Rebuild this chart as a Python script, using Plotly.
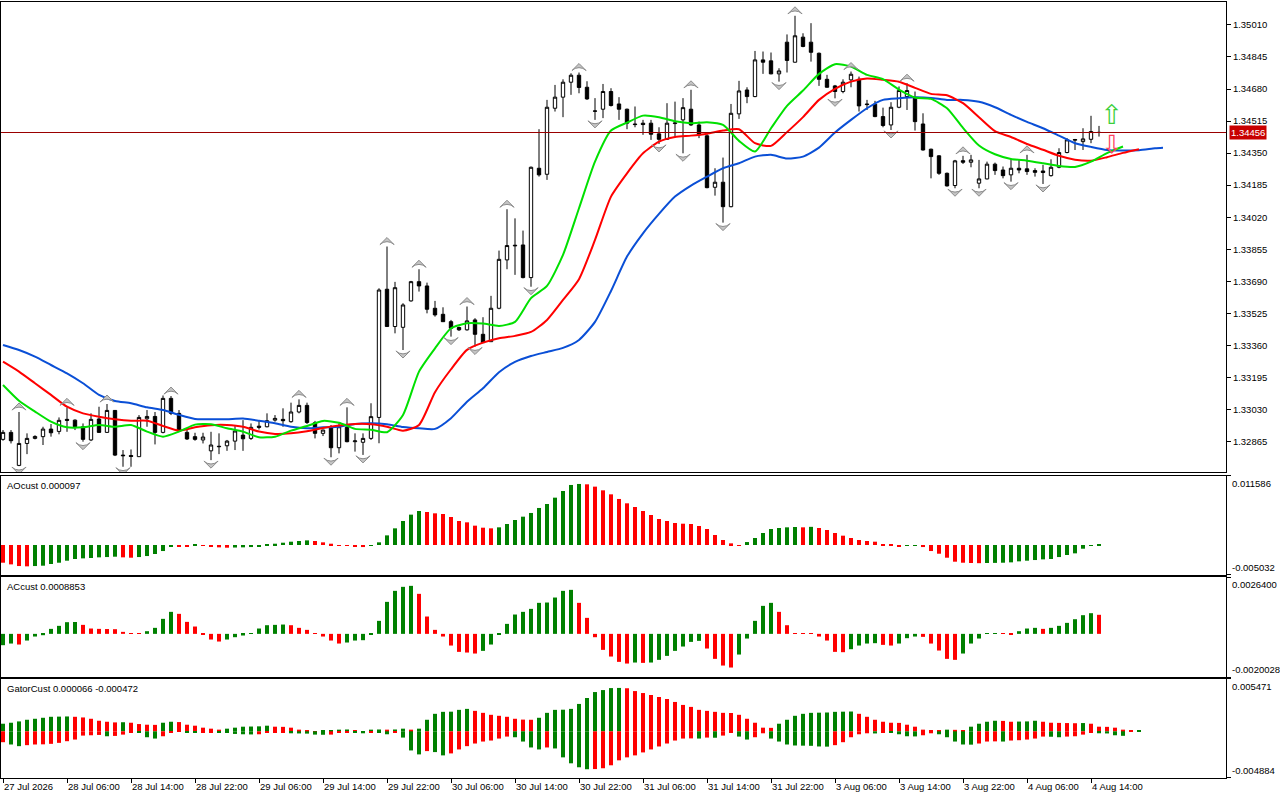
import numpy as np
import plotly.graph_objects as go
from plotly.subplots import make_subplots

# time axis labels, one every 8 hourly bars
time_labels = ['27 Jul 2026', '28 Jul 06:00', '28 Jul 14:00', '28 Jul 22:00', '29 Jul 06:00',
               '29 Jul 14:00', '29 Jul 22:00', '30 Jul 06:00', '30 Jul 14:00', '30 Jul 22:00',
               '31 Jul 06:00', '31 Jul 14:00', '31 Jul 22:00', '3 Aug 06:00', '3 Aug 14:00',
               '3 Aug 22:00', '4 Aug 06:00', '4 Aug 14:00']
label_step = 8

opens = [1.32876, 1.32912, 1.32742, 1.32855, 1.32881, 1.32890, 1.32929, 1.32917, 1.32979, 1.32975,
         1.32941, 1.32873, 1.32981, 1.32912, 1.33025, 1.32795, 1.32793, 1.32787, 1.32982, 1.32994,
         1.32912, 1.33087, 1.33010, 1.32912, 1.32890, 1.32873, 1.32817, 1.32838, 1.32843, 1.32867,
         1.32898, 1.32881, 1.32944, 1.32941, 1.32975, 1.32979, 1.32967, 1.33017, 1.33051, 1.32962,
         1.32907, 1.32938, 1.32833, 1.32938, 1.32864, 1.32861, 1.32881, 1.32989, 1.33649, 1.33457,
         1.33453, 1.33589, 1.33688, 1.33666, 1.33551, 1.33520, 1.33482, 1.33452, 1.33440, 1.33491,
         1.33417, 1.33379, 1.33551, 1.33800, 1.33872, 1.33877, 1.33709, 1.34272, 1.34241, 1.34581,
         1.34638, 1.34715, 1.34751, 1.34689, 1.34567, 1.34576, 1.34667, 1.34603, 1.34576, 1.34500,
         1.34504, 1.34504, 1.34449, 1.34421, 1.34502, 1.34521, 1.34576, 1.34495, 1.34439, 1.34174,
         1.34200, 1.34074, 1.34552, 1.34675, 1.34641, 1.34830, 1.34825, 1.34758, 1.34921, 1.34818,
         1.34947, 1.34921, 1.34864, 1.34730, 1.34696, 1.34667, 1.34727, 1.34730, 1.34603, 1.34602,
         1.34538, 1.34495, 1.34586, 1.34641, 1.34633, 1.34500, 1.34370, 1.34336, 1.34246, 1.34183,
         1.34311, 1.34303, 1.34195, 1.34217, 1.34293, 1.34263, 1.34238, 1.34272, 1.34269, 1.34260,
         1.34258, 1.34234, 1.34277, 1.34353, 1.34416, 1.34409, 1.34421, 1.34457]
highs = [1.32924, 1.32924, 1.33017, 1.32907, 1.32897, 1.32941, 1.32955, 1.32989, 1.33041, 1.32979,
         1.32958, 1.33010, 1.33044, 1.33058, 1.33027, 1.32821, 1.32824, 1.33001, 1.33027, 1.33017,
         1.33102, 1.33099, 1.33027, 1.32924, 1.32910, 1.32910, 1.32915, 1.32907, 1.32873, 1.32944,
         1.32975, 1.32958, 1.32975, 1.33010, 1.33001, 1.33036, 1.33065, 1.33082, 1.33065, 1.32971,
         1.32926, 1.32950, 1.32959, 1.33041, 1.32907, 1.32907, 1.33062, 1.33654, 1.33869, 1.33687,
         1.33577, 1.33692, 1.33752, 1.33683, 1.33589, 1.33556, 1.33491, 1.33457, 1.33560, 1.33500,
         1.33505, 1.33615, 1.33848, 1.34061, 1.34014, 1.33951, 1.34281, 1.34473, 1.34624, 1.34701,
         1.34730, 1.34761, 1.34765, 1.34720, 1.34633, 1.34706, 1.34684, 1.34638, 1.34579, 1.34590,
         1.34521, 1.34521, 1.34483, 1.34607, 1.34615, 1.34633, 1.34676, 1.34512, 1.34449, 1.34272,
         1.34327, 1.34603, 1.34722, 1.34689, 1.34876, 1.34873, 1.34868, 1.34787, 1.34961, 1.35057,
         1.34967, 1.35019, 1.34868, 1.34753, 1.34701, 1.34730, 1.34770, 1.34744, 1.34624, 1.34619,
         1.34584, 1.34612, 1.34693, 1.34710, 1.34667, 1.34555, 1.34373, 1.34339, 1.34250, 1.34315,
         1.34336, 1.34341, 1.34315, 1.34306, 1.34301, 1.34281, 1.34320, 1.34315, 1.34341, 1.34272,
         1.34289, 1.34318, 1.34375, 1.34427, 1.34423, 1.34478, 1.34542, 1.34490]
lows = [1.32869, 1.32855, 1.32738, 1.32800, 1.32876, 1.32847, 1.32890, 1.32902, 1.32915, 1.32924,
        1.32864, 1.32867, 1.32910, 1.32910, 1.32790, 1.32735, 1.32735, 1.32787, 1.32941, 1.32850,
        1.32907, 1.33001, 1.32915, 1.32873, 1.32869, 1.32855, 1.32769, 1.32800, 1.32817, 1.32821,
        1.32817, 1.32873, 1.32927, 1.32938, 1.32967, 1.32941, 1.32962, 1.33010, 1.32955, 1.32881,
        1.32893, 1.32784, 1.32804, 1.32861, 1.32813, 1.32796, 1.32873, 1.32856, 1.33457, 1.33422,
        1.33336, 1.33585, 1.33637, 1.33525, 1.33508, 1.33481, 1.33405, 1.33434, 1.33436, 1.33354,
        1.33372, 1.33378, 1.33546, 1.33752, 1.33723, 1.33705, 1.33662, 1.34229, 1.34212, 1.34564,
        1.34535, 1.34650, 1.34658, 1.34624, 1.34521, 1.34530, 1.34590, 1.34521, 1.34473, 1.34483,
        1.34444, 1.34418, 1.34397, 1.34418, 1.34435, 1.34349, 1.34490, 1.34427, 1.34169, 1.34131,
        1.33992, 1.34071, 1.34526, 1.34607, 1.34638, 1.34758, 1.34756, 1.34718, 1.34765, 1.34816,
        1.34895, 1.34821, 1.34696, 1.34687, 1.34632, 1.34658, 1.34689, 1.34564, 1.34572, 1.34535,
        1.34483, 1.34469, 1.34581, 1.34572, 1.34466, 1.34363, 1.34220, 1.34238, 1.34178, 1.34169,
        1.34294, 1.34277, 1.34169, 1.34215, 1.34238, 1.34220, 1.34203, 1.34246, 1.34238, 1.34229,
        1.34191, 1.34229, 1.34272, 1.34349, 1.34366, 1.34366, 1.34401, 1.34435]
closes = [1.32912, 1.32869, 1.32855, 1.32881, 1.32891, 1.32929, 1.32910, 1.32974, 1.32974, 1.32941,
          1.32876, 1.32979, 1.32912, 1.33025, 1.32795, 1.32792, 1.32788, 1.32989, 1.32994, 1.32912,
          1.33087, 1.33010, 1.32919, 1.32878, 1.32876, 1.32888, 1.32847, 1.32840, 1.32867, 1.32919,
          1.32879, 1.32938, 1.32938, 1.32972, 1.32984, 1.32972, 1.33017, 1.33051, 1.32963, 1.32907,
          1.32924, 1.32833, 1.32941, 1.32864, 1.32868, 1.32881, 1.32993, 1.33645, 1.33457, 1.33657,
          1.33568, 1.33688, 1.33666, 1.33546, 1.33517, 1.33482, 1.33448, 1.33440, 1.33486, 1.33417,
          1.33374, 1.33551, 1.33803, 1.33874, 1.33875, 1.33709, 1.34277, 1.34238, 1.34586, 1.34638,
          1.34715, 1.34751, 1.34688, 1.34629, 1.34566, 1.34667, 1.34595, 1.34576, 1.34504, 1.34497,
          1.34497, 1.34447, 1.34421, 1.34504, 1.34505, 1.34584, 1.34495, 1.34444, 1.34172, 1.34200,
          1.34074, 1.34555, 1.34670, 1.34641, 1.34830, 1.34818, 1.34758, 1.34773, 1.34827, 1.34954,
          1.34899, 1.34869, 1.34730, 1.34689, 1.34667, 1.34715, 1.34756, 1.34593, 1.34600, 1.34538,
          1.34492, 1.34586, 1.34672, 1.34672, 1.34512, 1.34366, 1.34332, 1.34246, 1.34181, 1.34310,
          1.34303, 1.34315, 1.34217, 1.34293, 1.34260, 1.34234, 1.34272, 1.34263, 1.34255, 1.34251,
          1.34250, 1.34277, 1.34353, 1.34418, 1.34420, 1.34423, 1.34461, 1.34456]

# alligator lines, read every second bar (they run past the last candle)
jaw_bars = list(range(0, 145, 2)) + [145]
jaw = [1.33362, 1.33336, 1.33302, 1.33259, 1.33216, 1.33165, 1.33105, 1.33074, 1.33062, 1.33041,
       1.33027, 1.33002, 1.32981, 1.32980, 1.32980, 1.32983, 1.32972, 1.32959, 1.32941, 1.32933,
       1.32938, 1.32941, 1.32955, 1.32959, 1.32954, 1.32940, 1.32933, 1.32930, 1.32985, 1.33070,
       1.33139, 1.33222, 1.33275, 1.33305, 1.33326, 1.33347, 1.33388, 1.33481, 1.33640, 1.33817,
       1.33937, 1.34037, 1.34126, 1.34183, 1.34229, 1.34272, 1.34298, 1.34332, 1.34341, 1.34322,
       1.34332, 1.34378, 1.34456, 1.34521, 1.34581, 1.34624, 1.34632, 1.34637, 1.34634, 1.34624,
       1.34624, 1.34614, 1.34586, 1.34547, 1.34511, 1.34478, 1.34440, 1.34401, 1.34382, 1.34366,
       1.34363, 1.34365, 1.34375, 1.34378]
teeth_bars = list(range(0, 143, 2))
teeth = [1.33276, 1.33225, 1.33165, 1.33105, 1.33044, 1.33010, 1.32993, 1.32980, 1.32972, 1.32972,
         1.32945, 1.32921, 1.32938, 1.32949, 1.32950, 1.32941, 1.32916, 1.32904, 1.32907, 1.32918,
         1.32935, 1.32947, 1.32955, 1.32954, 1.32941, 1.32921, 1.32950, 1.33119, 1.33237, 1.33337,
         1.33374, 1.33397, 1.33409, 1.33429, 1.33491, 1.33594, 1.33701, 1.33903, 1.34126, 1.34246,
         1.34349, 1.34409, 1.34433, 1.34440, 1.34450, 1.34466, 1.34473, 1.34401, 1.34387, 1.34458,
         1.34535, 1.34624, 1.34681, 1.34718, 1.34734, 1.34727, 1.34717, 1.34686, 1.34655, 1.34648,
         1.34607, 1.34535, 1.34463, 1.34433, 1.34397, 1.34367, 1.34336, 1.34316, 1.34311, 1.34329,
         1.34351, 1.34370]
lips_bars = list(range(0, 141, 2))
lips = [1.33156, 1.33075, 1.33019, 1.32967, 1.32938, 1.32938, 1.32950, 1.32941, 1.32950, 1.32916,
        1.32890, 1.32916, 1.32952, 1.32954, 1.32933, 1.32916, 1.32887, 1.32890, 1.32921, 1.32945,
        1.32971, 1.32962, 1.32930, 1.32926, 1.32913, 1.33002, 1.33225, 1.33345, 1.33448, 1.33474,
        1.33472, 1.33460, 1.33481, 1.33603, 1.33666, 1.33826, 1.34066, 1.34306, 1.34466, 1.34507,
        1.34543, 1.34535, 1.34514, 1.34504, 1.34509, 1.34495, 1.34413, 1.34358, 1.34478, 1.34593,
        1.34672, 1.34758, 1.34808, 1.34796, 1.34753, 1.34731, 1.34677, 1.34636, 1.34629, 1.34581,
        1.34480, 1.34389, 1.34344, 1.34320, 1.34311, 1.34298, 1.34284, 1.34279, 1.34306, 1.34350,
        1.34384]

fractal_up = [2, 8, 13, 21, 37, 43, 48, 52, 58, 63, 72, 86, 99, 106, 113, 120, 128]
fractal_down = [2, 10, 15, 26, 41, 45, 50, 56, 59, 66, 74, 82, 85, 90, 97, 104, 111, 119, 122, 126, 130]

signal_bar = 138.6
signal_buy = 1.34536
signal_sell = 1.34382

# oscillators, in units of 1e-4
ao = np.array([
    -29.7, -32.5, -35.3, -35.8, -35.3, -34.7, -31.9, -29.7, -26.3, -23.5,
    -22.4, -21.8, -20.7, -20.2, -19.6, -20.7, -21.3, -20.2, -18.5, -15.1,
    -10.1, -2.0, -2.2, -2.5, 1.7, -1.1, -2.2, -3.9, -4.5, -4.2,
    -3.9, -3.4, -2.2, 0.6, 2.2, 3.9, 5.6, 6.7, 7.8, 6.7,
    4.5, 2.2, -0.6, -1.1, -1.7, -3.4, -0.6, 4.5, 16.2, 28.0,
    40.3, 51.0, 57.1, 55.4, 53.2, 52.1, 47.0, 40.3, 38.1, 32.5,
    29.1, 28.0, 29.7, 35.3, 42.0, 47.6, 53.8, 62.2, 68.9, 79.5,
    90.7, 100.8, 102.5, 101.9, 98.0, 91.8, 85.1, 77.3, 70.0, 63.8,
    57.1, 50.4, 43.7, 40.3, 37.0, 35.8, 35.3, 31.9, 26.9, 16.8,
    8.4, 2.8, -1.1, 5.0, 11.8, 20.2, 26.9, 28.6, 29.7, 30.2,
    29.7, 30.5, 28.6, 25.2, 20.2, 15.7, 11.8, 8.4, 6.7, 5.6,
    1.7, 1.1, -1.7, -1.4, -1.1, -3.4, -10.1, -14.6, -21.3, -28.0,
    -29.7, -30.2, -30.5, -30.2, -30.0, -29.7, -29.1, -27.4, -26.3, -25.2,
    -24.1, -23.5, -20.2, -16.8, -14.0, -6.2, -1.1, 0.97]) * 1e-4
ac = np.array([
    -5.26, -4.49, -4.95, -3.10, -1.24, -0.62, 2.32, 3.72, 5.42, 5.50,
    4.18, 2.48, 2.32, 2.24, 2.17, 0.93, 0.15, 0.05, 1.24, 2.79,
    6.97, 10.22, 9.29, 5.57, 3.41, -0.15, -2.63, -3.56, -2.63, -1.55,
    -0.77, 0.15, 2.48, 4.02, 4.18, 4.33, 4.02, 2.79, 1.86, 0.05,
    -1.24, -3.10, -4.49, -4.02, -3.10, -2.94, -0.15, 6.04, 14.86, 19.97,
    21.83, 22.29, 18.58, 8.05, 1.86, -1.24, -5.42, -8.36, -8.67, -9.13,
    -7.89, -4.95, -0.31, 4.64, 8.98, 10.22, 11.61, 14.40, 14.55, 16.87,
    19.97, 20.43, 14.40, 7.43, -1.55, -7.43, -10.53, -13.00, -13.78, -13.31,
    -13.47, -13.31, -12.07, -10.22, -7.89, -5.88, -3.72, -3.25, -6.81, -11.61,
    -14.71, -15.63, -9.60, -2.17, 6.04, 13.00, 14.40, 10.22, 4.02, 0.31,
    0.20, 0.10, -1.24, -3.10, -8.36, -8.51, -7.12, -5.42, -4.49, -4.33,
    -5.11, -5.42, -4.49, -2.01, -1.24, -1.39, -4.49, -7.74, -11.61, -12.07,
    -9.13, -4.49, -2.17, 0.08, 0.15, 0.05, -0.15, 1.24, 2.48, 2.79,
    2.32, 2.79, 3.72, 5.11, 6.81, 8.67, 9.60, 8.853]) * 1e-4
gator_up = np.array([
    7.94, 8.97, 10.35, 12.08, 13.11, 14.15, 15.18, 15.35, 15.53, 15.18,
    14.49, 13.11, 11.04, 10.01, 9.32, 9.49, 8.97, 7.59, 6.90, 6.73,
    8.97, 10.01, 9.66, 6.90, 5.87, 3.80, 2.76, 1.73, 2.76, 3.80,
    4.83, 5.00, 5.18, 5.87, 4.83, 4.66, 3.80, 1.73, 0.69, 0.10,
    0.69, 0.86, 1.73, 1.90, 0.69, 0.10, 1.73, 1.90, 1.73, 1.90,
    2.76, 1.73, 2.76, 12.08, 18.29, 20.36, 20.53, 22.43, 23.46, 21.39,
    19.32, 17.25, 16.22, 15.18, 13.11, 12.25, 12.08, 14.15, 19.32, 22.43,
    22.60, 23.46, 28.64, 34.85, 41.06, 43.13, 45.20, 45.37, 45.02, 42.09,
    40.02, 37.95, 35.88, 33.81, 30.71, 27.60, 25.53, 22.43, 21.39, 20.36,
    19.32, 19.15, 17.25, 13.11, 8.97, 3.80, 3.62, 7.94, 12.08, 16.22,
    18.29, 19.32, 19.49, 19.67, 20.36, 20.53, 20.70, 18.29, 15.18, 12.08,
    10.01, 8.97, 8.80, 6.90, 4.83, 1.73, 1.04, 0.86, 1.73, 1.55,
    1.04, 4.83, 7.94, 10.01, 11.04, 10.87, 10.01, 10.18, 10.35, 11.04,
    10.01, 8.97, 8.80, 8.63, 8.45, 8.63, 7.94, 4.83, 4.66, 3.80,
    1.73, 0.52, 0.66]) * 1e-4
gator_down = np.array([
    11.39, 13.80, 15.53, 14.49, 13.80, 13.63, 13.11, 12.08, 10.35, 8.63,
    4.49, 4.14, 3.80, 5.18, 4.83, 3.45, 1.04, 1.73, 6.21, 7.59,
    5.18, 1.04, 0.69, 1.04, 1.73, 1.38, 1.04, 1.21, 1.73, 2.76,
    3.11, 3.28, 3.11, 1.73, 1.55, 1.38, 2.07, 2.24, 2.42, 3.45,
    3.62, 3.45, 1.04, 0.86, 1.04, 2.07, 1.04, 1.21, 3.11, 1.04,
    6.56, 20.01, 24.15, 20.70, 21.74, 25.19, 23.12, 18.98, 15.53, 12.77,
    10.70, 9.66, 7.59, 5.52, 6.21, 10.70, 16.91, 18.98, 16.91, 17.94,
    27.26, 33.47, 37.61, 39.68, 39.50, 38.64, 35.54, 30.36, 27.26, 25.19,
    22.08, 18.98, 15.87, 12.77, 9.66, 7.59, 7.42, 7.59, 6.56, 6.73,
    4.49, 1.04, 5.52, 8.63, 6.21, 2.07, 7.59, 10.70, 13.80, 14.84,
    15.01, 15.18, 15.87, 16.04, 14.49, 11.39, 6.21, 3.11, 2.07, 2.24,
    1.04, 1.21, 3.11, 5.18, 5.35, 4.14, 2.07, 3.11, 6.21, 10.70,
    13.80, 13.97, 12.77, 10.70, 10.52, 10.70, 9.66, 9.32, 8.63, 7.59,
    5.52, 5.69, 6.21, 5.52, 5.18, 3.45, 1.04, 2.07, 2.24, 4.14,
    4.72]) * 1e-4

price_ticks = [1.32865 + 0.00165 * k for k in range(14)]
price_range = [1.32708, 1.35128]
ao_range = [-0.005032, 0.011586]
ac_range = [-0.0020028, 0.0026400]
gator_range = [-0.004884, 0.005471]

GREEN = '#008000'
RED = '#ff0000'
FONT = dict(family='Liberation Sans, Arial, sans-serif', size=9.5, color='black')


def trend_colors(vals, first_up):
    # green while the bar grows, red while it shrinks
    cols = [GREEN if first_up else RED]
    for a, b in zip(vals[:-1], vals[1:]):
        cols.append(GREEN if b > a else RED)
    return cols


fig = make_subplots(rows=4, cols=1, shared_xaxes=True, vertical_spacing=0.004)

bars = list(range(len(closes)))
fig.add_trace(go.Candlestick(
    x=bars, open=opens, high=highs, low=lows, close=closes,
    increasing=dict(line=dict(color='black', width=1), fillcolor='white'),
    decreasing=dict(line=dict(color='black', width=1), fillcolor='black'),
    hoverinfo='skip'), row=1, col=1)

for xs, ys, col in [(jaw_bars, jaw, '#0a4fd6'), (teeth_bars, teeth, '#ff0000'),
                    (lips_bars, lips, '#00e000')]:
    fig.add_trace(go.Scatter(x=xs, y=ys, mode='lines',
                             line=dict(color=col, width=2, shape='spline', smoothing=0.6)),
                  row=1, col=1)

# fractal arrows sit a few pixels off the bar extremes
px_price = (price_range[1] - price_range[0]) / 470
fig.add_trace(go.Scatter(
    x=fractal_up, y=[highs[i] + 9 * px_price for i in fractal_up], mode='markers',
    marker=dict(symbol='arrow-wide', angle=0, size=10, color='#c4c4c4',
                line=dict(color='#8c8c8c', width=1))),
    row=1, col=1)
fig.add_trace(go.Scatter(
    x=fractal_down, y=[lows[i] - 8 * px_price for i in fractal_down], mode='markers',
    marker=dict(symbol='arrow-wide', angle=180, size=10, color='#c4c4c4',
                line=dict(color='#8c8c8c', width=1))),
    row=1, col=1)

fig.add_trace(go.Scatter(x=[signal_bar], y=[signal_buy], mode='text', text=['⇧'],
                         textfont=dict(family='DejaVu Sans', size=27, color='#3ccf3c')),
              row=1, col=1)
fig.add_trace(go.Scatter(x=[signal_bar], y=[signal_sell], mode='text', text=['⇩'],
                         textfont=dict(family='DejaVu Sans', size=25, color='#ff4060')),
              row=1, col=1)

fig.add_hline(y=closes[-1], line=dict(color='#9a0000', width=1), row=1, col=1)

fig.add_trace(go.Bar(x=list(range(len(ao))), y=ao, width=0.5,
                     marker=dict(color=trend_colors(ao, False), line=dict(width=0))), row=2, col=1)
fig.add_trace(go.Bar(x=list(range(len(ac))), y=ac, width=0.5,
                     marker=dict(color=trend_colors(ac, True), line=dict(width=0))), row=3, col=1)
fig.add_trace(go.Bar(x=list(range(len(gator_up))), y=gator_up, width=0.5,
                     marker=dict(color=trend_colors(gator_up, True), line=dict(width=0))), row=4, col=1)
fig.add_trace(go.Bar(x=list(range(len(gator_down))), y=-gator_down, width=0.5,
                     marker=dict(color=trend_colors(gator_down, False), line=dict(width=0))), row=4, col=1)

x_range = [-0.25, 152.875]
axis_common = dict(showline=True, mirror=True, linecolor='black', linewidth=1,
                   showgrid=False, zeroline=False, range=x_range, tickfont=FONT)
for r in range(1, 5):
    fig.update_xaxes(axis_common, row=r, col=1)
fig.update_xaxes(showticklabels=False, ticks='', row=1, col=1)
fig.update_xaxes(showticklabels=False, ticks='', row=2, col=1)
fig.update_xaxes(showticklabels=False, ticks='', row=3, col=1)
fig.update_xaxes(tickvals=[i * label_step for i in range(len(time_labels))], ticktext=time_labels,
                 ticks='outside', ticklen=4, tickcolor='black',
                 ticklabelposition='outside right', row=4, col=1)
fig.update_xaxes(rangeslider_visible=False, row=1, col=1)

yax = dict(side='right', showline=True, mirror=True, linecolor='black', linewidth=1,
           showgrid=False, zeroline=False, ticks='outside', ticklen=4, tickcolor='black',
           tickfont=FONT)
fig.update_yaxes(yax, row=1, col=1, range=price_range, domain=[0.39433, 1.0],
                 tickvals=price_ticks, ticktext=[f'{v:.5f}' for v in price_ticks])
sub_panels = [(2, ao_range, [0.26160, 0.38918], 6, 'AOcust 0.000097'),
              (3, ac_range, [0.13015, 0.25902], 7, 'ACcust 0.0008853'),
              (4, gator_range, [0.0, 0.12758], 6, 'GatorCust 0.000066 -0.000472')]
annotations = []
for row, rng, dom, dec, title in sub_panels:
    fig.update_yaxes(yax, row=row, col=1, range=rng, domain=dom, tickvals=rng,
                     showticklabels=False)
    ref = f'y{row}'
    annotations.append(dict(text=title, xref='paper', x=0, xanchor='left', xshift=4,
                            yref=f'{ref} domain', y=1, yanchor='top', yshift=-2,
                            showarrow=False, font=FONT))
    annotations.append(dict(text=f'{rng[1]:.{dec}f}', xref='paper', x=1, xanchor='left', xshift=4,
                            yref=ref, y=rng[1], yanchor='top', showarrow=False, font=FONT))
    annotations.append(dict(text=f'{rng[0]:.{dec}f}', xref='paper', x=1, xanchor='left', xshift=4,
                            yref=ref, y=rng[0], yanchor='bottom', showarrow=False, font=FONT))

# current price tag on the price scale
annotations.append(dict(text=f'{closes[-1]:.5f}', xref='paper', x=1, xanchor='left', xshift=3,
                        yref='y', y=closes[-1], yanchor='middle', showarrow=False,
                        bgcolor='#c80000', borderpad=1,
                        font=dict(family=FONT['family'], size=9.5, color='white')))

fig.update_layout(width=1280, height=800, margin=dict(l=1, r=54, t=2, b=22),
                  paper_bgcolor='white', plot_bgcolor='white', showlegend=False,
                  barmode='overlay', boxgap=0.4, annotations=annotations, font=FONT)

fig.write_html('out.html', config={'displayModeBar': False},
               post_script="document.body.style.margin='0';")
